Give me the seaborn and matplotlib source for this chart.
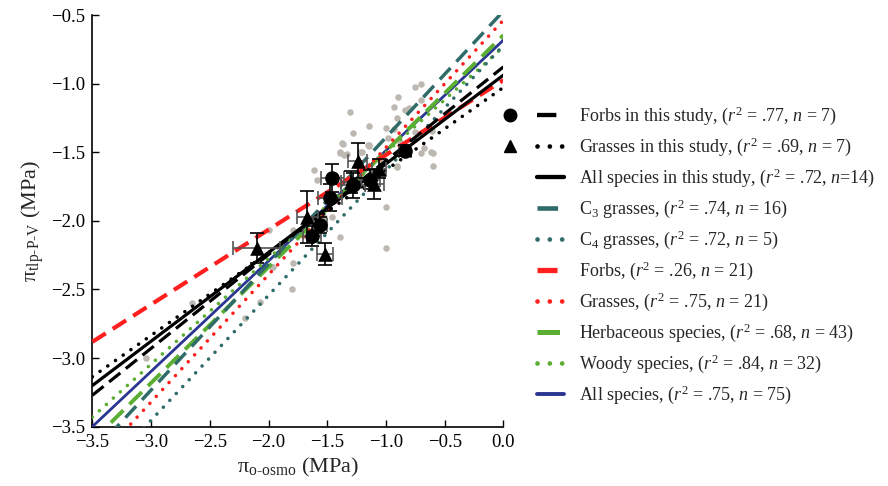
import matplotlib
matplotlib.use("Agg")
import matplotlib.pyplot as plt
from matplotlib.lines import Line2D
from matplotlib.legend_handler import HandlerTuple
import numpy as np
import pandas as pd
import seaborn as sns

# ---------------- data ----------------
# literature species (gray points)
lit_x = [-1.305, -0.70, -0.751, -0.894, -0.70, -0.808, -0.837, -0.928, -1.001, -0.908,
         -1.149, -1.155, -0.88, -0.766, -0.68, -0.70, -0.603, -0.603, -0.908, -1.0,
         -1.0, -1.37, -1.39, -1.334, -1.22, -1.612, -1.589, -1.39, -1.532, -1.794,
         -1.80, -1.794, -1.96, -2.07, -2.2, -2.653, -3.04, -0.936, -0.751, -0.609,
         -0.979, -1.143, -0.618, -0.907, -1.205, -1.277, -1.376, -1.141, -1.396, -1.362,
         -1.456, -1.992, -1.97, -1.05, -1.25]
lit_y = [-1.205, -1.003, -1.022, -1.095, -1.119, -1.18, -1.192, -1.168, -1.321, -1.253,
         -1.309, -1.447, -1.423, -1.406, -1.472, -1.503, -1.503, -1.598, -1.598, -1.897,
         -2.20, -1.44, -1.503, -1.513, -1.496, -1.63, -1.703, -2.12, -1.97, -2.067,
         -2.50, -2.31, -2.335, -2.59, -2.71, -2.60, -3.0, -1.333, -1.35, -1.345,
         -1.399, -1.448, -1.496, -1.606, -1.496, -1.362, -1.435, -1.453, -1.496, -1.52,
         -1.974, -2.067, -2.335, -1.55, -1.60]

# this study: forbs (circles)
forb_x = [-1.456, -1.475, -1.63, -1.56, -0.836, -1.135, -1.28]
forb_y = [-1.686, -1.83, -2.11, -2.03, -1.49, -1.70, -1.74]
forb_xerr = [0.10, 0.10, 0.08, 0.06, 0.05, 0.08, 0.10]
forb_yerr = [0.10, 0.10, 0.07, 0.06, 0.04, 0.07, 0.09]

# this study: grasses (triangles)
grass_x = [-2.10, -1.67, -1.52, -1.24, -1.10, -1.06, -1.30]
grass_y = [-2.20, -1.97, -2.24, -1.56, -1.73, -1.62, -1.72]
grass_xerr = [0.20, 0.09, 0.07, 0.08, 0.08, 0.06, 0.08]
grass_yerr = [0.11, 0.19, 0.08, 0.13, 0.11, 0.07, 0.08]

# regression lines: intercept, slope
line_labels = [
    r"Forbs in this study, ($r^2$ = .77, $n$ = 7)",
    r"Grasses in this study, ($r^2$ = .69, $n$ = 7)",
    r"All species in this study, ($r^2$ = .72, $n$=14)",
    r"C$_3$ grasses, ($r^2$ = .74, $n$ = 16)",
    r"C$_4$ grasses, ($r^2$ = .72, $n$ = 5)",
    r"Forbs, ($r^2$ = .26, $n$ = 21)",
    r"Grasses, ($r^2$ = .75, $n$ = 21)",
    r"Herbaceous species, ($r^2$ = .68, $n$ = 43)",
    r"Woody species, ($r^2$ = .84, $n$ = 32)",
    r"All species, ($r^2$ = .75, $n$ = 75)",
]
line_intercepts = [-0.877, -1.027, -0.937, -0.47, -0.72, -0.974, -0.536, -0.646, -0.731, -0.682]
line_slopes = [0.684, 0.6026, 0.6466, 0.921, 0.911, 0.545, 0.928, 0.845, 0.771, 0.805]

x_ticks = [-3.5, -3.0, -2.5, -2.0, -1.5, -1.0, -0.5, 0.0]
y_ticks = [-3.5, -3.0, -2.5, -2.0, -1.5, -1.0, -0.5]

# ---------------- style ----------------
sns.set_theme(style="ticks")
plt.rcParams["font.family"] = ["Liberation Serif", "DejaVu Serif"]
plt.rcParams["mathtext.fontset"] = "custom"
plt.rcParams["mathtext.rm"] = "Liberation Serif"
plt.rcParams["mathtext.it"] = "Liberation Serif:italic"
plt.rcParams["mathtext.bf"] = "Liberation Serif:bold"

teal = "#2F6B68"
red = "#FF1F1F"
green = "#5AAE32"
blue = "#2B3592"
DOT = (0, (0.01, 2.6))
line_styles = [
    dict(color="black", linestyle=(0, (4.5, 2.2)), lw=2.3),
    dict(color="black", linestyle=DOT, lw=2.6, dash_capstyle="round"),
    dict(color="black", linestyle="-", lw=2.3),
    dict(color=teal, linestyle=(0, (4.5, 2.5)), lw=2.5),
    dict(color=teal, linestyle=DOT, lw=2.6, dash_capstyle="round"),
    dict(color=red, linestyle=(0, (3.8, 2.0)), lw=3.0),
    dict(color=red, linestyle=DOT, lw=2.6, dash_capstyle="round"),
    dict(color=green, linestyle=(0, (4.5, 2.2)), lw=2.8),
    dict(color=green, linestyle=DOT, lw=2.6, dash_capstyle="round"),
    dict(color=blue, linestyle="-", lw=2.0),
]

fig = plt.figure(figsize=(8.88, 4.86), dpi=100)
ax = fig.add_axes([0.104, 0.122, 0.463, 0.847])

# gray literature points
sns.scatterplot(x=lit_x, y=lit_y, ax=ax, color="#BDB8B2", s=22, linewidth=0, zorder=2)

# regression lines
xr = np.array([-3.5, 0.0])
order = [9, 7, 8, 3, 4, 6, 5, 2, 0, 1]
for i in order:
    df = pd.DataFrame({"x": xr, "y": line_intercepts[i] + line_slopes[i] * xr})
    st = line_styles[i]
    sns.lineplot(data=df, x="x", y="y", ax=ax, color=st["color"], linestyle=st["linestyle"],
                 lw=st["lw"], dash_capstyle=st.get("dash_capstyle", "butt"), zorder=3,
                 legend=False)

# study points with error bars
for xs, ys, xe, ye, mk, ms in [(forb_x, forb_y, forb_xerr, forb_yerr, "o", 10.5),
                               (grass_x, grass_y, grass_xerr, grass_yerr, "^", 10.5)]:
    ax.errorbar(xs, ys, xerr=xe, fmt="none", ecolor="#555555", elinewidth=1.2, capsize=5,
                capthick=1.2, zorder=4)
    ax.errorbar(xs, ys, yerr=ye, fmt="none", ecolor="black", elinewidth=1.2, capsize=5,
                capthick=1.2, zorder=4)
    sns.scatterplot(x=xs, y=ys, ax=ax, marker=mk, color="black", s=ms ** 2, linewidth=0,
                    zorder=5)

ax.set_xlim(-3.5, 0.0)
ax.set_ylim(-3.5, -0.5)
ax.set_xticks(x_ticks)
ax.set_yticks(y_ticks)
ax.set_xticklabels([f"{t:.1f}".replace("-", "\u2212") for t in x_ticks])
ax.set_yticklabels([f"{t:.1f}".replace("-", "\u2212") for t in y_ticks])
ax.tick_params(direction="in", length=5, width=1, labelsize=13.5, colors="black", pad=5)
for s in ["top", "right"]:
    ax.spines[s].set_visible(False)
for s in ["left", "bottom"]:
    ax.spines[s].set_color("black")
    ax.spines[s].set_linewidth(1.2)

ax.set_xlabel(r"π$_{\text{o-osmo}}$ (MPa)", fontsize=16, labelpad=4)
ax.set_ylabel(r"π$_{\text{tlp-P-V}}$ (MPa)", fontsize=16, labelpad=4)

# legend
handles = []
for i in range(10):
    st = line_styles[i]
    ln = Line2D([], [], color=st["color"], linestyle=st["linestyle"], lw=st["lw"] + 0.8,
                dash_capstyle=st.get("dash_capstyle", "butt"))
    if i == 0:
        mk = Line2D([], [], marker="o", color="black", linestyle="none", markersize=9)
    elif i == 1:
        mk = Line2D([], [], marker="^", color="black", linestyle="none", markersize=9)
    else:
        mk = Line2D([], [], marker="none", linestyle="none")
    handles.append((mk, ln))

fig.legend(handles, line_labels, handler_map={tuple: HandlerTuple(ndivide=2, pad=0.76)},
           loc="center left", bbox_to_anchor=(0.559, 0.474), frameon=False, fontsize=13.0,
           handlelength=3.75, handletextpad=0.82, labelspacing=0.47, borderaxespad=0,
           borderpad=0)

fig.savefig("out.png", dpi=100)
